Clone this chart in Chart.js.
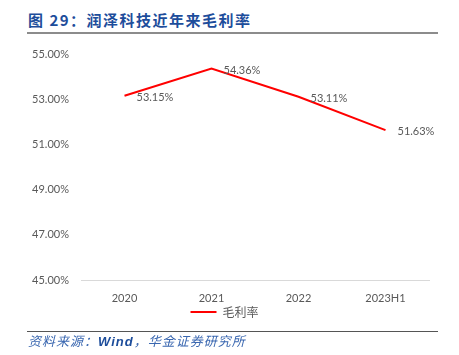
<!DOCTYPE html>
<html>
<head>
<meta charset="utf-8">
<script src="https://cdn.jsdelivr.net/npm/chart.js@4"></script>
<style>
html,body{margin:0;padding:0;background:#fff;}
#wrap{position:relative;width:459px;height:355px;overflow:hidden;}
#title{position:absolute;left:28px;top:10px;font:bold 15px "Noto Sans CJK SC",sans-serif;color:#1d4d9b;letter-spacing:1.5px;white-space:nowrap;line-height:20px;}
#tline{position:absolute;left:27px;top:32px;width:411px;height:2px;background:#8c8c8c;}
#sline{position:absolute;left:27px;top:331px;width:411px;height:1px;background:#555;}
#source{position:absolute;left:28px;top:333px;font:italic 13px "Noto Sans CJK SC",sans-serif;color:#3a67b0;letter-spacing:1px;white-space:nowrap;line-height:16px;}
#source b{color:#1d4d9b;font-family:"Liberation Sans",sans-serif;}
canvas{position:absolute;left:0;top:0;}
</style>
</head>
<body>
<div id="wrap">
<div id="title">图 29：润泽科技近年来毛利率</div>
<div id="tline"></div>
<canvas id="c" width="459" height="355"></canvas>
<div id="sline"></div>
<div id="source">资料来源：<b>Wind</b>，华金证券研究所</div>
</div>
<script>
const categories = ['2020', '2021', '2022', '2023H1'];
const grossMargin = [53.15, 54.36, 53.11, 51.63];
const seriesName = '毛利率';
const yTicks = [45, 47, 49, 51, 53, 55];

const FONT = 'Lato, "Noto Sans", sans-serif';
const GRAY = '#595959';

const labelPlugin = {
  id: 'valueLabels',
  afterDatasetsDraw(chart) {
    const ctx = chart.ctx;
    const meta = chart.getDatasetMeta(0);
    ctx.save();
    ctx.font = '11px ' + FONT;
    ctx.fillStyle = GRAY;
    ctx.textAlign = 'left';
    ctx.textBaseline = 'middle';
    meta.data.forEach((pt, i) => {
      ctx.fillText(grossMargin[i].toFixed(2) + '%', pt.x + 12, pt.y + 1.5);
    });
    ctx.restore();
  }
};

new Chart(document.getElementById('c'), {
  type: 'line',
  data: {
    labels: categories,
    datasets: [{
      label: seriesName,
      data: grossMargin,
      borderColor: '#ff0000',
      backgroundColor: '#ff0000',
      borderWidth: 2,
      pointRadius: 0,
      tension: 0
    }]
  },
  options: {
    responsive: false,
    animation: false,
    devicePixelRatio: 1,
    layout: { padding: { left: 20, right: 30, top: 54, bottom: 27 } },
    scales: {
      x: {
        offset: true,
        grid: { display: false, drawTicks: false },
        border: { display: true, color: '#d9d9d9', width: 1 },
        ticks: { color: GRAY, font: { family: FONT, size: 11 }, padding: 12 },
        afterFit(scale) { scale.height = 22; }
      },
      y: {
        min: 45, max: 55,
        afterBuildTicks(scale) { scale.ticks = yTicks.map(v => ({ value: v })); },
        grid: { display: false, drawTicks: false },
        border: { display: false },
        ticks: {
          color: GRAY, font: { family: FONT, size: 11 }, padding: 12,
          callback: v => v.toFixed(2) + '%'
        },
        afterFit(scale) { scale.width = 61; }
      }
    },
    plugins: {
      legend: {
        position: 'bottom',
        labels: {
          color: GRAY,
          font: { family: '"Noto Sans CJK SC", sans-serif', size: 12 },
          usePointStyle: true,
          pointStyle: 'line',
          pointStyleWidth: 26,
          boxHeight: 12,
          padding: 4
        }
      },
      tooltip: { enabled: false }
    }
  },
  plugins: [labelPlugin]
});
</script>
</body>
</html>
